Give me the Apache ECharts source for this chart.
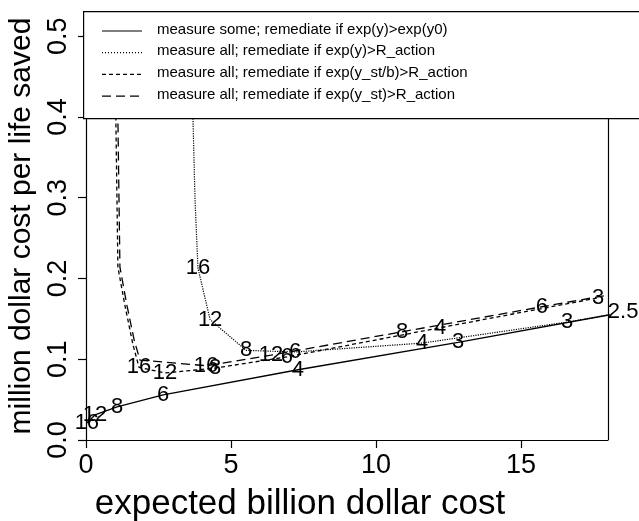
<!DOCTYPE html>
<html><head><meta charset="utf-8">
<script src="https://cdn.jsdelivr.net/npm/echarts@6/dist/echarts.min.js"></script>
<style>html,body{margin:0;padding:0;background:#fff}#c{width:639px;height:521px}</style>
</head><body><div id="c"></div>
<script>
// measure some; remediate if exp(y)>exp(y0)
const someX = [0.03, 0.31, 1.07, 2.66, 7.31, 12.83, 18.52];
const someY = [0.021, 0.031, 0.041, 0.056, 0.087, 0.121, 0.158];
const someL = ['16', '12', '8', '6', '4', '3', '2.5'];
// measure all; remediate if exp(y)>R_action
const allX = [3.60, 3.69, 3.76, 3.86, 4.28, 5.52, 7.21, 11.59, 16.59, 18.52];
const allY = [0.600, 0.396, 0.297, 0.213, 0.149, 0.111, 0.109, 0.120, 0.146, 0.158];
const allL = ['', '', '', '16', '12', '8', '6', '4', '3', ''];
// measure all; remediate if exp(y_st/b)>R_action
const stbX = [1.00, 1.03, 1.10, 1.34, 1.62, 1.83, 2.72, 4.45, 6.93, 12.21, 17.66];
const stbY = [0.600, 0.396, 0.214, 0.167, 0.118, 0.090, 0.083, 0.089, 0.103, 0.139, 0.176];
const stbL = ['', '', '', '', '', '16', '12', '8', '6', '4', '3'];
// measure all; remediate if exp(y_st)>R_action
const stX = [1.06, 1.10, 1.17, 1.41, 1.66, 1.86, 4.14, 6.38, 10.90, 15.72, 17.93];
const stY = [0.600, 0.396, 0.214, 0.167, 0.124, 0.099, 0.092, 0.105, 0.134, 0.165, 0.179];
const stL = ['', '', '', '', '', '', '16', '12', '8', '6', ''];

const legendNames = [
  'measure some; remediate if exp(y)>exp(y0)',
  'measure all; remediate if exp(y)>R_action',
  'measure all; remediate if exp(y_st/b)>R_action',
  'measure all; remediate if exp(y_st)>R_action'
];
const xTicks = [0, 5, 10, 15];
const yTicks = [0, 0.1, 0.2, 0.3, 0.4, 0.5];

const FONT = 'Liberation Sans, Arial, sans-serif';
const lineTypes = ['solid', 'dotted', [4, 3], [9, 5]];
const sets = [[someX, someY, someL], [allX, allY, allL], [stbX, stbY, stbL], [stX, stY, stL]];

const series = [];
sets.forEach((s, i) => {
  const pts = s[0].map((x, k) => [x, s[1][k], s[2][k]]);
  series.push({
    type: 'line', data: pts, showSymbol: false, clip: true, silent: true,
    lineStyle: { color: '#000', width: i === 1 ? 1.2 : 1.3, type: lineTypes[i] }, z: 2
  });
  series.push({
    type: 'scatter', data: pts.filter(p => p[2] !== ''), symbolSize: 0, clip: false, silent: true,
    itemStyle: { color: '#000', opacity: 1 },
    label: { show: true, position: 'inside', formatter: p => p.data[2],
      fontFamily: FONT, fontSize: 22, color: '#000', opacity: 1, textBorderWidth: 0 }, z: 3
  });
});
series[0].markLine = {
  silent: true, symbol: 'none', label: { show: false },
  lineStyle: { color: '#000', width: 1.2, type: 'solid' },
  data: [{ xAxis: 18 }]
};

const graphic = [{
  type: 'rect', left: 83, top: 11, z: 100,
  shape: { width: 620, height: 107 },
  style: { fill: '#fff', stroke: '#000', lineWidth: 1.2 }
}];
legendNames.forEach((n, i) => {
  const y = 31 + i * 21.7;
  graphic.push({
    type: 'line', z: 101,
    shape: { x1: 102, y1: y, x2: 142, y2: y },
    style: { stroke: '#000', lineWidth: 1.2,
      lineDash: i === 0 ? null : (i === 1 ? [1, 2] : (i === 2 ? [4, 3] : [9, 5])) }
  });
  graphic.push({
    type: 'text', z: 101, left: 157, top: y - 9,
    style: { text: n, font: '15px ' + FONT, fill: '#000' }
  });
});

const chart = echarts.init(document.getElementById('c'), null, { renderer: 'canvas' });
chart.setOption({
  animation: false,
  backgroundColor: '#fff',
  grid: { left: 86, right: 31, top: 12, bottom: 81, containLabel: false, outerBoundsMode: 'none' },
  xAxis: {
    type: 'value', min: 0, max: 18,
    name: 'expected billion dollar cost', nameLocation: 'middle', nameGap: 47,
    nameTextStyle: { fontFamily: FONT, fontSize: 35, color: '#000', padding: [0, 94, 0, 0] },
    axisLine: { show: true, lineStyle: { color: '#000', width: 1.2 } },
    axisTick: { show: true, length: 8, customValues: xTicks, lineStyle: { color: '#000', width: 1.2 } },
    axisLabel: { customValues: xTicks, fontFamily: FONT, fontSize: 27, color: '#000', margin: 12 },
    splitLine: { show: false }
  },
  yAxis: {
    type: 'value', min: 0, max: 0.53,
    name: 'million dollar cost per life saved', nameLocation: 'middle', nameGap: 47,
    nameTextStyle: { fontFamily: FONT, fontSize: 30, color: '#000' },
    axisLine: { show: true, lineStyle: { color: '#000', width: 1.2 } },
    axisTick: { show: true, length: 8, customValues: yTicks, lineStyle: { color: '#000', width: 1.2 } },
    axisLabel: { customValues: yTicks, rotate: 90, fontFamily: FONT, fontSize: 27, color: '#000', margin: 14,
      formatter: v => v.toFixed(1) },
    splitLine: { show: false }
  },
  graphic: graphic,
  series: series
});
</script></body></html>
